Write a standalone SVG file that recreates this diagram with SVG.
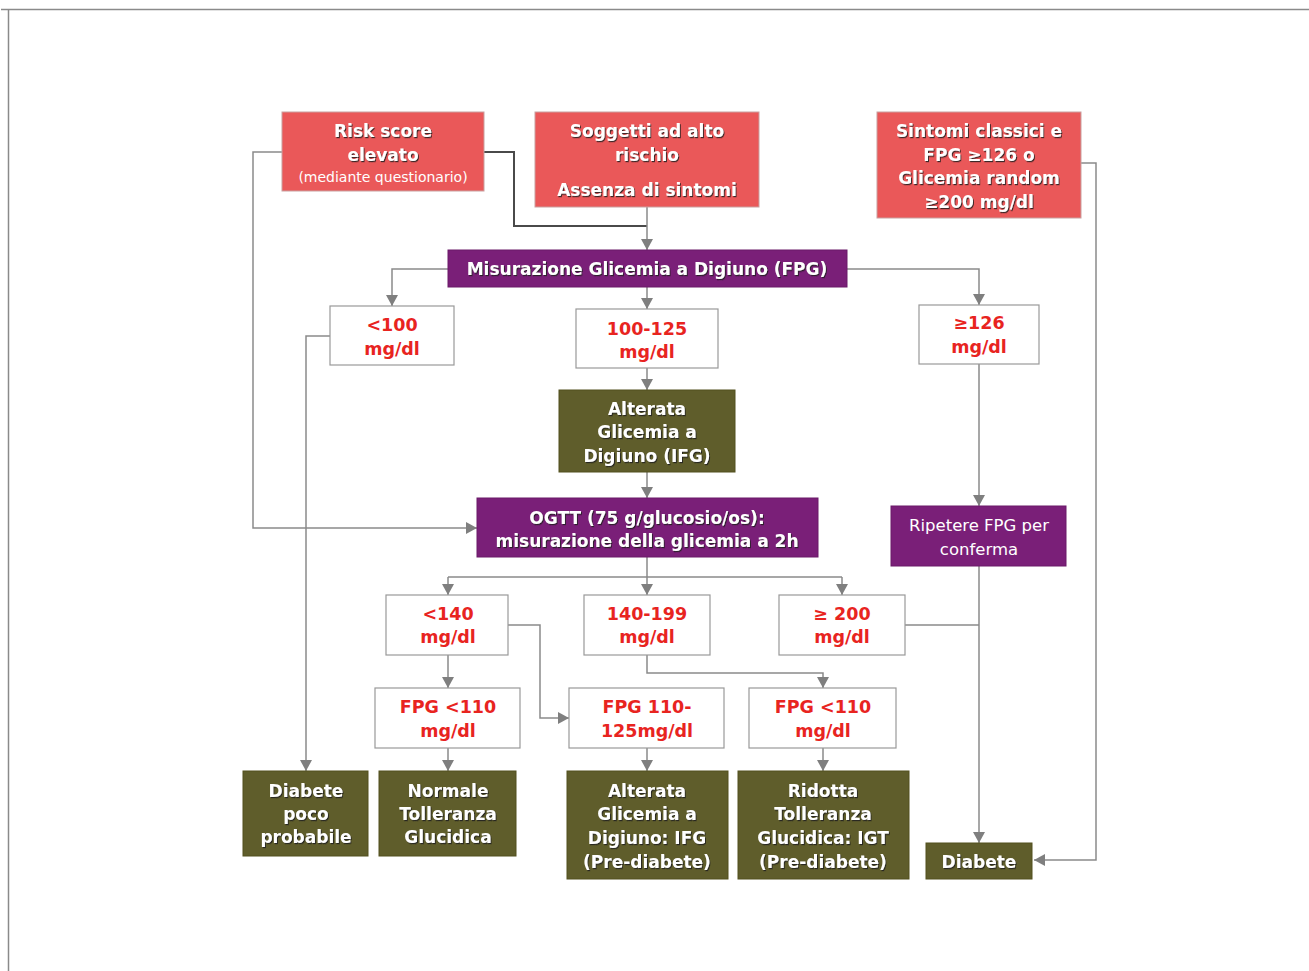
<svg xmlns="http://www.w3.org/2000/svg" width="1309" height="971" viewBox="0 0 1309 971">
<defs>
<style>
.red{fill:#ea5859;stroke:#c9a0a0;stroke-width:1}
.pur{fill:#7a1f78;stroke:#6a1a68;stroke-width:1}
.oli{fill:#5f5d2b;stroke:#53511f;stroke-width:1}
.wht{fill:#ffffff;stroke:#999999;stroke-width:1.2}
text{font-family:"DejaVu Sans","Liberation Sans",sans-serif;text-anchor:middle}
.tw{fill:#ffffff;font-weight:bold;font-size:17px;filter:url(#sh)}
.tn{fill:#ffffff;font-size:16.5px}
.ts{fill:#ffffff;font-size:14px}
.tr{fill:#e8241f;font-weight:bold;font-size:17.5px}
.ln{fill:none;stroke:#8a8a8a;stroke-width:1.5}
.dk{fill:none;stroke:#4a4a4a;stroke-width:2}
</style>
<filter id="sh" x="-10%" y="-30%" width="120%" height="160%">
<feDropShadow dx="1" dy="1.2" stdDeviation="0.4" flood-color="#222" flood-opacity="0.85"/>
</filter>
<marker id="ar" markerUnits="userSpaceOnUse" markerWidth="11" markerHeight="12" refX="11" refY="6" orient="auto" viewBox="0 0 11 12">
<path d="M0,0 L11,6 L0,12 z" fill="#7f7f7f"/>
</marker>
</defs>
<rect width="1309" height="971" fill="#ffffff"/>
<path d="M1,9.5 H1309 M8.5,9 V971" fill="none" stroke="#8a8a8a" stroke-width="1.5"/>

<g id="connectors">
<path class="ln" d="M282,152 H253 V528 H477" marker-end="url(#ar)"/>
<path class="dk" d="M484,152 H514 V226 H647"/>
<path class="ln" d="M647,207 V250" marker-end="url(#ar)"/>
<path class="ln" d="M448,269 H392 V306" marker-end="url(#ar)"/>
<path class="ln" d="M647,287 V309" marker-end="url(#ar)"/>
<path class="ln" d="M847,269 H979 V305" marker-end="url(#ar)"/>
<path class="ln" d="M330,336 H306 V771" marker-end="url(#ar)"/>
<path class="ln" d="M647,368 V390" marker-end="url(#ar)"/>
<path class="ln" d="M647,472 V498" marker-end="url(#ar)"/>
<path class="ln" d="M979,364 V506" marker-end="url(#ar)"/>
<path class="ln" d="M979,566 V843" marker-end="url(#ar)"/>
<path class="ln" d="M905,625 H979"/>
<path class="ln" d="M1081,163 H1096 V860 H1034" marker-end="url(#ar)"/>
<path class="ln" d="M647,557 V577 M448,577 H842"/>
<path class="ln" d="M448,577 V595" marker-end="url(#ar)"/>
<path class="ln" d="M647,577 V595" marker-end="url(#ar)"/>
<path class="ln" d="M842,577 V595" marker-end="url(#ar)"/>
<path class="ln" d="M448,655 V688" marker-end="url(#ar)"/>
<path class="ln" d="M508,625 H540 V718 H569" marker-end="url(#ar)"/>
<path class="ln" d="M647,655 V673 H823 V688" marker-end="url(#ar)"/>
<path class="ln" d="M448,748 V771" marker-end="url(#ar)"/>
<path class="ln" d="M647,748 V771" marker-end="url(#ar)"/>
<path class="ln" d="M823,748 V771" marker-end="url(#ar)"/>
</g>

<g id="risk">
<rect class="red" x="282" y="112" width="202" height="79"/>
<text class="tw" x="383" y="137">Risk score</text>
<text class="tw" x="383" y="161">elevato</text>
<text class="ts" x="383" y="182">(mediante questionario)</text>
</g>
<g id="soggetti">
<rect class="red" x="535" y="112" width="224" height="95"/>
<text class="tw" x="647" y="137">Soggetti ad alto</text>
<text class="tw" x="647" y="161">rischio</text>
<text class="tw" x="647" y="196">Assenza di sintomi</text>
</g>
<g id="sintomi">
<rect class="red" x="877" y="112" width="204" height="106"/>
<text class="tw" x="979" y="137">Sintomi classici e</text>
<text class="tw" x="979" y="161">FPG ≥126 o</text>
<text class="tw" x="979" y="184">Glicemia random</text>
<text class="tw" x="979" y="208">≥200 mg/dl</text>
</g>
<g id="fpg">
<rect class="pur" x="448" y="250" width="399" height="37"/>
<text class="tw" x="647" y="275">Misurazione Glicemia a Digiuno (FPG)</text>
</g>
<g id="lt100">
<rect class="wht" x="330" y="306" width="124" height="59"/>
<text class="tr" x="392" y="331">&lt;100</text>
<text class="tr" x="392" y="355">mg/dl</text>
</g>
<g id="r100">
<rect class="wht" x="576" y="309" width="142" height="59"/>
<text class="tr" x="647" y="335">100-125</text>
<text class="tr" x="647" y="358">mg/dl</text>
</g>
<g id="ge126">
<rect class="wht" x="919" y="305" width="120" height="59"/>
<text class="tr" x="979" y="329">≥126</text>
<text class="tr" x="979" y="353">mg/dl</text>
</g>
<g id="ifg">
<rect class="oli" x="559" y="390" width="176" height="82"/>
<text class="tw" x="647" y="415">Alterata</text>
<text class="tw" x="647" y="438">Glicemia a</text>
<text class="tw" x="647" y="462">Digiuno (IFG)</text>
</g>
<g id="ogtt">
<rect class="pur" x="477" y="498" width="341" height="59"/>
<text class="tw" x="647" y="524">OGTT (75 g/glucosio/os):</text>
<text class="tw" x="647" y="547">misurazione della glicemia a 2h</text>
</g>
<g id="ripetere">
<rect class="pur" x="891" y="506" width="175" height="60"/>
<text class="tn" x="979" y="531">Ripetere FPG per</text>
<text class="tn" x="979" y="555">conferma</text>
</g>
<g id="lt140">
<rect class="wht" x="386" y="595" width="122" height="60"/>
<text class="tr" x="448" y="620">&lt;140</text>
<text class="tr" x="448" y="643">mg/dl</text>
</g>
<g id="r140">
<rect class="wht" x="584" y="595" width="126" height="60"/>
<text class="tr" x="647" y="620">140-199</text>
<text class="tr" x="647" y="643">mg/dl</text>
</g>
<g id="ge200">
<rect class="wht" x="779" y="595" width="126" height="60"/>
<text class="tr" x="842" y="620">≥ 200</text>
<text class="tr" x="842" y="643">mg/dl</text>
</g>
<g id="fpg110a">
<rect class="wht" x="375" y="688" width="145" height="60"/>
<text class="tr" x="448" y="713">FPG &lt;110</text>
<text class="tr" x="448" y="737">mg/dl</text>
</g>
<g id="fpg110125">
<rect class="wht" x="569" y="688" width="155" height="60"/>
<text class="tr" x="647" y="713">FPG 110-</text>
<text class="tr" x="647" y="737">125mg/dl</text>
</g>
<g id="fpg110b">
<rect class="wht" x="749" y="688" width="147" height="60"/>
<text class="tr" x="823" y="713">FPG &lt;110</text>
<text class="tr" x="823" y="737">mg/dl</text>
</g>
<g id="poco">
<rect class="oli" x="243" y="771" width="125" height="85"/>
<text class="tw" x="306" y="797">Diabete</text>
<text class="tw" x="306" y="820">poco</text>
<text class="tw" x="306" y="843">probabile</text>
</g>
<g id="normale">
<rect class="oli" x="379" y="771" width="137" height="85"/>
<text class="tw" x="448" y="797">Normale</text>
<text class="tw" x="448" y="820">Tolleranza</text>
<text class="tw" x="448" y="843">Glucidica</text>
</g>
<g id="alterata">
<rect class="oli" x="567" y="771" width="161" height="108"/>
<text class="tw" x="647" y="797">Alterata</text>
<text class="tw" x="647" y="820">Glicemia a</text>
<text class="tw" x="647" y="844">Digiuno: IFG</text>
<text class="tw" x="647" y="868">(Pre-diabete)</text>
</g>
<g id="ridotta">
<rect class="oli" x="738" y="771" width="171" height="108"/>
<text class="tw" x="823" y="797">Ridotta</text>
<text class="tw" x="823" y="820">Tolleranza</text>
<text class="tw" x="823" y="844">Glucidica: IGT</text>
<text class="tw" x="823" y="868">(Pre-diabete)</text>
</g>
<g id="diabete">
<rect class="oli" x="926" y="843" width="106" height="36"/>
<text class="tw" x="979" y="868">Diabete</text>
</g>
</svg>
